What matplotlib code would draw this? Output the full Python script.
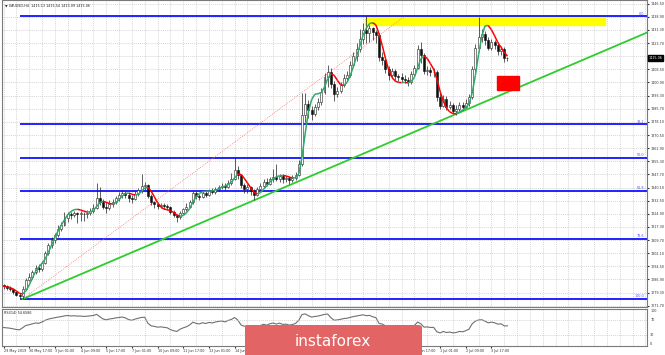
import numpy as np
import pandas as pd
import matplotlib
matplotlib.use('Agg')
import matplotlib.pyplot as plt
from matplotlib.collections import LineCollection
from matplotlib.patches import Rectangle, FancyBboxPatch
import matplotlib.transforms as mtransforms

plt.rcParams['font.family'] = ['DejaVu Sans']

# XAUUSD H4 candles, 29 May - 4 Jul 2019
closes = [1283.0, 1282.0, 1281.2, 1279.5, 1278.0, 1277.2, 1281.5, 1286.8, 1288.5, 1291.0,
          1293.4, 1292.8, 1296.5, 1302.0, 1306.8, 1309.7, 1312.5, 1316.0, 1318.3, 1322.5,
          1324.6, 1324.0, 1325.2, 1324.8, 1325.0, 1324.6, 1325.4, 1326.8, 1328.5, 1334.0,
          1331.5, 1329.0, 1328.0, 1330.5, 1331.8, 1333.9, 1335.5, 1336.8, 1335.9, 1334.2,
          1333.6, 1336.5, 1338.5, 1341.0, 1341.6, 1335.0, 1331.5, 1330.6, 1329.4, 1329.9,
          1329.2, 1328.6, 1326.0, 1324.2, 1323.0, 1325.6, 1327.4, 1328.9, 1331.6, 1336.8,
          1335.3, 1334.6, 1336.9, 1336.0, 1338.0, 1337.4, 1339.1, 1340.3, 1341.0, 1340.2,
          1342.9, 1345.0, 1350.0, 1347.5, 1341.4, 1339.5, 1340.6, 1338.2, 1336.0, 1339.3,
          1341.0, 1343.5, 1342.2, 1344.9, 1346.4, 1345.0, 1346.9, 1345.3, 1345.8, 1344.6,
          1345.5, 1347.4, 1354.0, 1382.0, 1388.3, 1384.9, 1382.6, 1386.5, 1389.8, 1395.6,
          1404.0, 1407.2, 1400.0, 1394.5, 1396.0, 1399.3, 1403.6, 1405.2, 1410.8, 1416.2,
          1420.5, 1425.8, 1431.5, 1429.8, 1432.6, 1430.0, 1428.5, 1415.5, 1414.0, 1408.9,
          1405.0, 1407.6, 1404.4, 1403.8, 1403.0, 1402.3, 1400.9, 1405.8, 1409.4, 1420.5,
          1416.6, 1407.5, 1408.2, 1406.7, 1407.0, 1392.6, 1387.5, 1391.2, 1386.8, 1388.0,
          1384.6, 1385.4, 1387.9, 1386.7, 1388.9, 1392.4, 1408.5, 1420.8, 1427.5, 1429.0,
          1425.5, 1421.0, 1424.2, 1422.6, 1419.0, 1420.5, 1414.9, 1415.06]
highs = [1284.5, 1283.8, 1283.0, 1281.8, 1280.0, 1278.9, 1283.0, 1288.0, 1290.6, 1292.5,
         1295.2, 1296.0, 1297.8, 1303.6, 1308.2, 1311.4, 1314.0, 1318.5, 1320.2, 1325.8,
         1326.2, 1325.9, 1326.5, 1326.0, 1326.4, 1325.9, 1327.0, 1328.0, 1330.3, 1343.0,
         1340.2, 1333.4, 1331.5, 1332.8, 1333.5, 1335.2, 1337.4, 1338.9, 1338.2, 1336.7,
         1335.5, 1338.0, 1340.0, 1348.0, 1343.2, 1342.0, 1336.1, 1332.4, 1331.6, 1331.2,
         1330.9, 1330.8, 1329.4, 1327.1, 1325.0, 1326.6, 1328.5, 1330.9, 1333.0, 1338.2,
         1337.9, 1336.5, 1338.3, 1338.9, 1339.5, 1339.6, 1340.4, 1341.8, 1343.0, 1342.6,
         1344.4, 1348.5, 1357.8, 1352.4, 1348.0, 1342.8, 1342.1, 1341.2, 1339.0, 1340.5,
         1342.8, 1344.8, 1345.4, 1346.3, 1351.0, 1354.0, 1348.1, 1347.9, 1347.0, 1346.8,
         1347.1, 1349.0, 1356.2, 1395.0, 1394.8, 1391.0, 1387.4, 1388.6, 1391.8, 1397.9,
         1406.5, 1411.2, 1409.4, 1401.6, 1398.4, 1401.0, 1405.6, 1407.5, 1413.4, 1418.5,
         1424.0, 1432.0, 1435.5, 1439.2, 1434.0, 1433.2, 1431.0, 1429.4, 1418.3, 1415.1,
         1410.3, 1409.5, 1408.8, 1406.0, 1406.4, 1405.5, 1404.1, 1407.4, 1411.1, 1422.6,
         1424.3, 1417.9, 1410.5, 1409.6, 1409.0, 1408.1, 1394.8, 1393.4, 1392.9, 1390.2,
         1389.3, 1387.6, 1389.5, 1389.8, 1391.2, 1394.4, 1410.3, 1423.4, 1438.8, 1432.0,
         1430.6, 1427.0, 1426.0, 1425.4, 1424.1, 1422.0, 1421.3, 1415.54]
lows = [1281.5, 1280.9, 1280.2, 1278.6, 1277.1, 1276.2, 1275.6, 1281.0, 1285.9, 1287.4,
        1290.1, 1291.5, 1292.0, 1295.9, 1300.9, 1305.4, 1308.0, 1311.6, 1314.9, 1317.6,
        1320.3, 1322.1, 1322.8, 1319.6, 1320.5, 1321.0, 1322.5, 1324.1, 1325.6, 1327.9,
        1330.0, 1327.6, 1325.4, 1326.9, 1328.9, 1330.4, 1332.3, 1334.0, 1333.8, 1332.0,
        1331.2, 1332.8, 1335.4, 1337.0, 1338.5, 1333.8, 1330.2, 1328.1, 1327.6, 1328.0,
        1327.8, 1327.1, 1324.6, 1322.8, 1320.2, 1321.9, 1324.7, 1326.4, 1328.0, 1330.5,
        1333.4, 1333.0, 1333.8, 1334.7, 1335.2, 1336.1, 1336.6, 1337.9, 1339.5, 1338.9,
        1339.7, 1341.5, 1344.2, 1345.3, 1339.6, 1337.2, 1336.8, 1335.9, 1332.9, 1335.4,
        1338.6, 1340.2, 1340.8, 1341.5, 1343.6, 1343.8, 1343.4, 1343.0, 1343.5, 1342.2,
        1343.2, 1344.4, 1346.6, 1352.8, 1378.0, 1380.2, 1379.2, 1381.4, 1384.7, 1388.0,
        1394.3, 1398.2, 1397.5, 1389.9, 1392.5, 1394.8, 1398.1, 1402.0, 1404.3, 1409.6,
        1413.5, 1418.8, 1423.1, 1423.6, 1424.2, 1425.5, 1424.0, 1413.6, 1411.0, 1406.5,
        1402.5, 1403.4, 1402.1, 1401.6, 1401.2, 1400.5, 1398.6, 1399.8, 1404.6, 1408.6,
        1412.4, 1405.9, 1405.4, 1404.8, 1404.3, 1390.4, 1385.3, 1386.5, 1385.2, 1385.6,
        1383.3, 1382.1, 1384.3, 1385.1, 1386.2, 1387.5, 1391.6, 1407.0, 1419.2, 1424.5,
        1422.4, 1419.5, 1419.8, 1420.0, 1416.8, 1417.0, 1412.8, 1413.09]
first_open = 1283.6

price_ticks = [1446.50, 1438.90, 1431.30, 1423.70, 1416.10, 1408.50, 1400.90, 1393.30,
               1385.70, 1378.10, 1370.50, 1362.90, 1355.30, 1347.70, 1340.10, 1332.50,
               1324.90, 1317.30, 1309.70, 1302.10, 1294.50, 1286.90, 1279.30, 1271.70]
date_pos = [0, 8, 16, 24, 32, 40, 48, 56, 64, 72, 80, 88, 96, 104, 112, 120, 128, 136, 144, 152]
date_labels = ['29 May 2019', '30 May 17:00', '3 Jun 01:00', '4 Jun 09:00', '5 Jun 17:00',
               '7 Jun 01:00', '10 Jun 09:00', '11 Jun 17:00', '13 Jun 01:00', '14 Jun 09:00',
               '17 Jun 17:00', '19 Jun 01:00', '20 Jun 09:00', '21 Jun 17:00', '25 Jun 01:00',
               '26 Jun 09:00', '27 Jun 17:00', '1 Jul 01:00', '2 Jul 09:00', '3 Jul 17:00']

fib_levels = [0.0, 38.2, 50.0, 61.8, 78.6, 100.0]
fib_names = ['0.0', '38.2', '50.0', '61.8', '78.6', '100.0']
fib_low = (6, 1275.6)
fib_high = (125, 1439.2)
trend_a = (6, 1275.6)
trend_b = (77, 1331.9)
yellow_zone = (112.6, 187.4, 1434.2, 1439.2)
red_zone = (153.7, 160.6, 1396.6, 1404.7)
header = '\u25bc XAUUSD,H4  1415.13 1415.54 1413.09 1415.06'
rsi_header = 'RSI(14) 54.6586'

c = np.array(closes)
h = np.array(highs)
l = np.array(lows)
o = np.concatenate([[first_open], c[:-1]])
x = np.arange(len(c))

# Hull moving average, coloured by slope
def wma(v, n):
    w = np.arange(1, n + 1)
    return pd.Series(v).rolling(n, min_periods=1).apply(
        lambda a: np.dot(a, w[-len(a):]) / w[-len(a):].sum(), raw=True).values

n = 10
ma = wma(2 * wma(c, n // 2) - wma(c, n), int(np.sqrt(n)))

# RSI(14), Wilder smoothing
d = np.diff(c, prepend=c[0])
ag, al = 2.0, 2.0
rsi = []
for g, lo in zip(np.clip(d, 0, None), np.clip(-d, 0, None)):
    ag = (ag * 13 + g) / 14
    al = (al * 13 + lo) / 14
    rsi.append(100 * ag / (ag + al))

FS = 2.4  # tiny terminal font

fig = plt.figure(figsize=(6.65, 3.55), dpi=100)
ax = fig.add_axes([2 / 665, 48 / 355, 645 / 665, 307 / 355])
rax = fig.add_axes([2 / 665, 8.75 / 355, 645 / 665, 37.5 / 355])

xlim = (-0.47, 200.47)
for a in (ax, rax):
    a.set_xlim(*xlim)
    for s in a.spines.values():
        s.set_color('#7a7a7a')
        s.set_linewidth(0.8)
    a.set_xticks(np.arange(0, 201, 4), minor=True)
    a.tick_params(which='minor', length=0)
    a.grid(True, which='minor', axis='x', color='#c8c8c8', ls=(0, (1.5, 1.5)), lw=0.5)
    a.set_axisbelow(True)
ax.set_ylim(1270.97, 1448.64)

ax.yaxis.tick_right()
ax.set_yticks(price_ticks)
# the last-price box covers the tick label next to it
ax.set_yticklabels(['' if abs(p - c[-1]) < 3 else f'{p:.2f}' for p in price_ticks])
ax.tick_params(axis='y', labelsize=FS, length=1.5, pad=0.8, colors='#333333')
ax.grid(True, axis='y', color='#c8c8c8', ls=(0, (1.5, 1.5)), lw=0.5)
ax.set_xticks([])

# zones
ax.add_patch(Rectangle((yellow_zone[0], yellow_zone[2]), yellow_zone[1] - yellow_zone[0],
                       yellow_zone[3] - yellow_zone[2], color='#ffff00', zorder=1))
ax.add_patch(Rectangle((red_zone[0], red_zone[2]), red_zone[1] - red_zone[0],
                       red_zone[3] - red_zone[2], color='#ff0000', zorder=5))

# fibonacci levels
span = fib_high[1] - fib_low[1]
for lev, name in zip(fib_levels, fib_names):
    p = fib_high[1] - span * lev / 100
    ax.hlines(p, fib_low[0] - 0.8, xlim[1], color='#1010ff', lw=1.3, zorder=2)
    ax.text(xlim[1] - 0.8, p + 0.4, name, ha='right', va='bottom', fontsize=FS,
            color='#5050ff', zorder=6)
ax.plot([fib_low[0], fib_high[0]], [fib_low[1], fib_high[1]], color='#ff7070',
        ls=(0, (1, 1.5)), lw=0.6, zorder=2)

# trend line (ray to the right)
slope = (trend_b[1] - trend_a[1]) / (trend_b[0] - trend_a[0])
ax.plot([trend_a[0], xlim[1]], [trend_a[1], trend_a[1] + slope * (xlim[1] - trend_a[0])],
        color='#2ecc2e', lw=1.3, zorder=2)

# candles
ax.vlines(x, l, h, color='#202020', lw=0.5, zorder=3)
bull = c >= o
body = np.maximum(np.abs(c - o), 0.35)
ax.bar(x[bull], body[bull], bottom=np.minimum(o, c)[bull], width=0.62,
       color='white', edgecolor='#202020', lw=0.4, zorder=4)
ax.bar(x[~bull], body[~bull], bottom=np.minimum(o, c)[~bull], width=0.62,
       color='#101010', edgecolor='#101010', lw=0.4, zorder=4)

# coloured MA
pts = np.column_stack([x, ma])
segs = np.stack([pts[:-1], pts[1:]], axis=1)
cols = ['#2fa86a' if ma[i + 1] >= ma[i] else '#ff0000' for i in range(len(ma) - 1)]
ax.add_collection(LineCollection(segs, colors=cols, lw=1.1, zorder=5))

# header and last price box
ax.text(0.004, 0.988, header, transform=ax.transAxes, fontsize=FS, va='top', ha='left',
        color='#202020')
trans = mtransforms.blended_transform_factory(ax.transAxes, ax.transData)
ax.text(1.003, c[-1], f'{c[-1]:.2f}', transform=trans, fontsize=FS, color='white',
        va='center', ha='left', zorder=10,
        bbox=dict(boxstyle='square,pad=0.2', fc='black', ec='black'))

# RSI panel
rax.set_ylim(0, 100)
rax.plot(x, rsi, color='#707070', lw=0.8)
rax.hlines([70, 30], *xlim, color='#c8c8c8', ls=(0, (1.5, 1.5)), lw=0.5)
rax.set_yticks([])
rtrans = mtransforms.blended_transform_factory(rax.transAxes, rax.transData)
for val, va in [(100, 'top'), (70, 'center'), (30, 'center'), (0, 'bottom')]:
    rax.text(1.005, val, str(val), transform=rtrans, fontsize=FS, va=va, ha='left',
             color='#333333')
rax.text(0.003, 0.93, rsi_header, transform=rax.transAxes, fontsize=FS, va='top',
         ha='left', color='#202020')
rax.set_xticks(date_pos)
rax.set_xticklabels(date_labels, ha='left')
rax.tick_params(axis='x', labelsize=FS, length=1.5, pad=0.8, colors='#333333')

# instaforex badge
fig.add_artist(FancyBboxPatch((245 / 665, -0.02), 177 / 665, 30 / 355 + 0.02,
                              boxstyle='round,pad=0,rounding_size=0.006',
                              transform=fig.transFigure, fc='#e26464', ec='none',
                              zorder=20))
fig.text(333 / 665, 13 / 355, 'instaforex', color='white', fontsize=11, ha='center',
         va='center', zorder=21)

fig.savefig('out.png', dpi=100)
